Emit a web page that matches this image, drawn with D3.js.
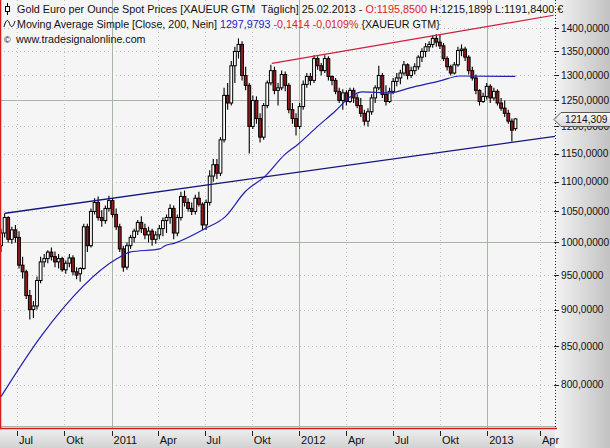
<!DOCTYPE html>
<html><head><meta charset="utf-8">
<script src="https://cdn.jsdelivr.net/npm/d3@7"></script>
<style>
body{margin:0;background:#fff}
svg{display:block}
text{font-family:"Liberation Sans",Arial,sans-serif;font-size:11px}
</style>
</head><body>
<svg id="c" width="610" height="448"></svg>
<script>
// ---------- data ----------
const weekStart = "2010-05-31"; // first weekly candle (Mondays)
// weekly candles [open, high, low, close]
const ohlc = [
[995,1022,985,1015],[1015,1047,1008,1040],[1040,1042,1000,1005],[1005,1025,998,1020],
[1020,1028,1000,1008],[1008,1018,960,965],[965,978,945,955],[955,958,915,920],
[920,928,886,900],[900,912,888,905],[905,948,900,942],[942,978,938,970],
[970,982,962,975],[975,988,968,985],[985,992,972,978],[978,986,962,970],
[970,982,960,975],[975,978,955,958],[958,972,952,968],[968,982,962,976],
[976,980,950,955],[955,962,944,950],[952,962,940,960],[960,1030,958,1025],
[1025,1030,985,995],[995,1055,992,1050],[1050,1072,1045,1065],[1065,1075,1035,1040],
[1040,1052,1025,1035],[1035,1060,1030,1055],[1055,1076,1050,1068],[1068,1072,1040,1045],
[1045,1055,1020,1025],[1025,1030,985,990],[990,995,955,962],[962,1000,958,995],
[995,1012,990,1008],[1008,1022,1000,1018],[1018,1036,1012,1032],[1032,1042,1015,1022],
[1022,1030,1005,1012],[1012,1025,1000,1018],[1018,1022,995,1005],[1005,1018,998,1012],
[1012,1028,1005,1022],[1022,1040,1010,1035],[1035,1045,1015,1040],[1040,1062,1030,1055],
[1055,1060,1005,1015],[1015,1045,1010,1040],[1040,1083,1035,1075],[1075,1085,1058,1065],
[1065,1072,1050,1055],[1055,1065,1044,1050],[1050,1078,1045,1072],[1072,1083,1058,1062],
[1062,1065,1020,1028],[1028,1070,1020,1065],[1065,1120,1060,1110],[1110,1140,1100,1130],
[1130,1140,1105,1115],[1115,1180,1110,1175],[1175,1275,1170,1260],[1260,1285,1232,1245],
[1245,1330,1240,1320],[1320,1360,1285,1350],[1350,1378,1335,1365],[1365,1372,1290,1300],
[1300,1318,1270,1280],[1280,1285,1150,1200],[1200,1260,1195,1250],[1250,1258,1205,1215],
[1215,1225,1170,1180],[1180,1245,1175,1240],[1240,1290,1235,1285],[1285,1322,1280,1310],
[1310,1318,1262,1270],[1270,1285,1240,1275],[1275,1310,1270,1302],[1302,1308,1268,1280],
[1280,1285,1225,1232],[1232,1245,1205,1215],[1215,1225,1183,1200],[1200,1245,1195,1238],
[1238,1290,1232,1282],[1282,1305,1275,1298],[1298,1305,1280,1290],[1290,1342,1285,1335],
[1335,1340,1312,1320],[1320,1326,1300,1310],[1310,1342,1305,1335],[1335,1340,1290,1298],
[1298,1300,1280,1290],[1290,1295,1262,1268],[1268,1275,1245,1250],[1250,1272,1232,1265],
[1265,1270,1240,1248],[1248,1275,1245,1270],[1270,1275,1245,1255],[1255,1262,1235,1240],
[1240,1255,1218,1225],[1225,1232,1202,1210],[1210,1235,1200,1228],[1228,1262,1222,1255],
[1255,1280,1245,1275],[1275,1320,1270,1300],[1300,1305,1255,1262],[1262,1280,1240,1248],
[1248,1275,1245,1268],[1268,1295,1262,1288],[1288,1305,1278,1295],[1295,1312,1282,1305],
[1305,1330,1300,1322],[1322,1325,1292,1300],[1300,1318,1295,1310],[1310,1325,1302,1318],
[1318,1342,1312,1338],[1338,1357,1328,1350],[1350,1368,1338,1360],[1360,1372,1350,1365],
[1365,1385,1358,1378],[1378,1387,1360,1370],[1370,1386,1355,1362],[1362,1368,1330,1335],
[1335,1340,1310,1318],[1318,1322,1300,1305],[1305,1328,1302,1322],[1322,1360,1318,1352],
[1352,1365,1340,1355],[1355,1360,1330,1338],[1338,1342,1302,1310],[1310,1318,1290,1295],
[1295,1302,1262,1270],[1270,1272,1240,1248],[1248,1265,1245,1258],[1258,1285,1252,1278],
[1278,1282,1245,1255],[1255,1275,1250,1268],[1268,1272,1240,1245],[1245,1255,1230,1235],
[1235,1250,1218,1225],[1225,1232,1205,1210],[1210,1215,1172,1193],[1195.85,1215.19,1191.84,1214.31]
];
// 200-day simple moving average
const maDates = ["2010-05-31","2010-08-20","2011-01-12","2011-02-06","2011-04-05","2011-04-15",
 "2011-05-04","2011-07-02","2011-08-10","2011-09-18","2011-10-26","2011-12-04","2011-12-30",
 "2012-02-07","2012-03-11","2012-04-09","2012-05-04","2012-06-26","2012-08-04","2012-10-01",
 "2012-11-09","2013-02-25"];
const maValues = [785,866,975,985,990,995,999,1022,1041,1083,1109,1148,1167,1201,1229,1257,
 1267,1265,1275,1289,1299,1298];
// drawn trend lines [date, price]
const trendBlue = [["2010-06-08",1047],["2013-04-22",1181.5]];
const trendRed  = [["2011-11-09",1325],["2013-04-20",1429]];
// axes
const yTicks = [800,850,900,950,1000,1050,1100,1150,1200,1250,1300,1350,1400];
const yMajor = [750,1000,1250];
const xTickDates = ["2010-07-01","2010-10-01","2011-01-01","2011-04-01","2011-07-01","2011-10-01",
 "2012-01-01","2012-04-01","2012-07-01","2012-10-01","2013-01-01","2013-04-01"];
const xTickLabels = ["Jul","Okt","2011","Apr","Jul","Okt","2012","Apr","Jul","Okt","2013","Apr"];
const lastPrice = 1214.309;
const legend1 = ["Gold Euro per Ounce Spot Prices [XAUEUR GTM\u00a0 Täglich] 25.02.2013 - ","O:1195,8500"," H:1215,1899 L:1191,8400 €"];
const legend2 = ["Moving Average Simple [Close, 200, Nein] ","1297,9793"," -0,1414 -0,0109%"," {XAUEUR GTM}"];
const legend3 = "www.tradesignalonline.com";

// ---------- drawing ----------
const parse = d3.timeParse("%Y-%m-%d");
const PW = 555, PH = 429;
const svg = d3.select("#c");
const x = d3.scaleTime()
  .domain([parse("2010-05-29"), parse("2013-02-27"), parse("2013-04-22")])
  .range([0, 516.5, PW]);
const y = d3.scaleLog().domain([746, 1463.7]).range([PH, 0]);

const defs = svg.append("defs");
const gR = defs.append("linearGradient").attr("id","gr").attr("x1",0).attr("x2",1).attr("y1",0).attr("y2",0);
gR.append("stop").attr("offset","0%").attr("stop-color","#f3f3f3");
gR.append("stop").attr("offset","100%").attr("stop-color","#c2c2c2");
const gB = defs.append("linearGradient").attr("id","gb").attr("x1",0).attr("x2",0).attr("y1",0).attr("y2",1);
gB.append("stop").attr("offset","0%").attr("stop-color","#efefef");
gB.append("stop").attr("offset","100%").attr("stop-color","#d2d2d2");
const gM = defs.append("linearGradient").attr("id","gm").attr("x1",0).attr("x2",0).attr("y1",0).attr("y2",1);
gM.append("stop").attr("offset","0%").attr("stop-color","#fafafa");
gM.append("stop").attr("offset","100%").attr("stop-color","#d6d6d6");
defs.append("clipPath").attr("id","clip").append("rect").attr("width",PW).attr("height",PH);

svg.append("rect").attr("width",PW).attr("height",PH).attr("fill","#f5f5f5");
svg.append("rect").attr("x",PW).attr("width",610-PW).attr("height",448).attr("fill","url(#gr)");
svg.append("rect").attr("y",PH).attr("width",PW).attr("height",448-PH).attr("fill","url(#gb)");

const plot = svg.append("g").attr("clip-path","url(#clip)");
// horizontal grid
const hAll = yTicks.concat([750]);
plot.selectAll("line.hg").data(hAll).join("line")
  .attr("x1",0).attr("x2",PW)
  .attr("y1",d=>Math.round(y(d))+0.5).attr("y2",d=>Math.round(y(d))+0.5)
  .attr("stroke",d=>yMajor.includes(d)?"#a9b4aa":"#bdbdbd")
  .attr("stroke-dasharray",d=>yMajor.includes(d)?null:"1,3");
// vertical grid
plot.selectAll("line.vg").data(xTickDates).join("line")
  .attr("x1",d=>Math.round(x(parse(d)))+0.5).attr("x2",d=>Math.round(x(parse(d)))+0.5)
  .attr("y1",0).attr("y2",PH)
  .attr("stroke",(d,i)=>/^\d{4}$/.test(xTickLabels[i])?"#a9b4aa":"#bdbdbd")
  .attr("stroke-dasharray",(d,i)=>/^\d{4}$/.test(xTickLabels[i])?null:"1,3");

// candles
const t0 = parse(weekStart);
const candles = ohlc.map((c,i)=>({date:d3.timeDay.offset(t0,7*i), o:c[0],h:c[1],l:c[2],c:c[3]}));
const cw = 2.8;
const cg = plot.append("g");
cg.selectAll("line").data(candles).join("line")
  .attr("x1",d=>x(d.date)).attr("x2",d=>x(d.date))
  .attr("y1",d=>y(d.h)).attr("y2",d=>y(d.l))
  .attr("stroke","#000").attr("stroke-width",1.1);
cg.selectAll("rect").data(candles).join("rect")
  .attr("x",d=>x(d.date)-cw/2).attr("width",cw)
  .attr("y",d=>y(Math.max(d.o,d.c)))
  .attr("height",d=>Math.max(1,Math.abs(y(d.o)-y(d.c))))
  .attr("fill",d=>d.c>=d.o?"#ffffff":"#981a1e")
  .attr("stroke","#000").attr("stroke-width",1);

// moving average
const ma = maDates.map((d,i)=>({date:parse(d), v:maValues[i]}));
plot.append("path").datum(ma)
  .attr("d",d3.line().x(d=>x(d.date)).y(d=>y(d.v)).curve(d3.curveMonotoneX))
  .attr("fill","none").attr("stroke","#1f1fb0").attr("stroke-width",1.2);
// trend lines
const tl = d3.line().x(d=>x(parse(d[0]))).y(d=>y(d[1]));
plot.append("path").datum(trendBlue).attr("d",tl).attr("fill","none").attr("stroke","#15157e").attr("stroke-width",1.3);
plot.append("path").datum(trendRed).attr("d",tl).attr("fill","none").attr("stroke","#cf1e3c").attr("stroke-width",1.2);

// frame lines
svg.append("line").attr("x1",0.5).attr("x2",0.5).attr("y1",0).attr("y2",PH).attr("stroke","#d41e1e").attr("stroke-width",1.5);
svg.append("line").attr("x1",0).attr("x2",PW+2).attr("y1",PH-0.5).attr("y2",PH-0.5).attr("stroke","#d41e1e").attr("stroke-width",1.5);

// right axis
svg.append("line").attr("x1",PW+0.5).attr("x2",PW+0.5).attr("y1",0).attr("y2",PH)
  .attr("stroke","#222").attr("stroke-dasharray","1,2");
const ya = svg.append("g");
ya.selectAll("line").data(yTicks).join("line")
  .attr("x1",PW-1).attr("x2",PW+4)
  .attr("y1",d=>Math.round(y(d))+0.5).attr("y2",d=>Math.round(y(d))+0.5)
  .attr("stroke","#222");
const fmt = v => d3.format(".4f")(v).replace(".",",");
ya.selectAll("text").data(yTicks).join("text")
  .attr("x",PW+6).attr("y",d=>y(d)).attr("dy","0.36em")
  .style("font-size","10.2px").attr("fill","#111").text(fmt);

// last price marker
const ly = Math.round(y(lastPrice))+0.5;
svg.append("path")
  .attr("d",`M${PW-1},${ly} L${PW+6},${ly-7} L${612},${ly-7} L${612},${ly+7} L${PW+6},${ly+7} Z`)
  .attr("fill","url(#gm)").attr("stroke","#555");
svg.append("text").attr("x",PW+10).attr("y",ly).attr("dy","0.36em").attr("fill","#111")
  .style("font-size","10.2px")
  .text(d3.format(".3f")(lastPrice).replace(".",","));

// bottom axis
const xa = svg.append("g");
xa.selectAll("line").data(xTickDates).join("line")
  .attr("x1",d=>Math.round(x(parse(d)))+0.5).attr("x2",d=>Math.round(x(parse(d)))+0.5)
  .attr("y1",PH+2).attr("y2",PH+7).attr("stroke","#222");
xa.selectAll("text").data(xTickDates).join("text")
  .attr("x",d=>x(parse(d))+2).attr("y",444).attr("fill","#111")
  .text((d,i)=>xTickLabels[i]);

// legend
const lg = svg.append("g");
// candle icon
lg.append("line").attr("x1",7.5).attr("x2",7.5).attr("y1",3).attr("y2",15).attr("stroke","#000");
lg.append("rect").attr("x",5.5).attr("y",6.5).attr("width",4).attr("height",5).attr("fill","#fff").attr("stroke","#000");
const t1 = lg.append("text").attr("x",17).attr("y",13).style("font-size","10.8px");
t1.append("tspan").attr("fill","#111").text(legend1[0]);
t1.append("tspan").attr("fill","#e01e1e").text(legend1[1]);
t1.append("tspan").attr("fill","#111").text(legend1[2]);
// wave icon
lg.append("path").attr("d","M4,27 C6,19 8,19 9.5,23.5 C11,28 13,28 15,21").attr("fill","none").attr("stroke","#000");
const t2 = lg.append("text").attr("x",17).attr("y",28).style("font-size","10.7px");
t2.append("tspan").attr("fill","#111").text(legend2[0]);
t2.append("tspan").attr("fill","#2222c8").text(legend2[1]);
t2.append("tspan").attr("fill","#e01e1e").text(legend2[2]);
t2.append("tspan").attr("fill","#111").text(legend2[3]);
lg.append("text").attr("x",4).attr("y",43).style("font-size","9px").attr("fill","#111").text("©");
lg.append("text").attr("x",16).attr("y",43).style("font-size","10.7px").attr("fill","#111").text(legend3);
</script>
</body></html>
